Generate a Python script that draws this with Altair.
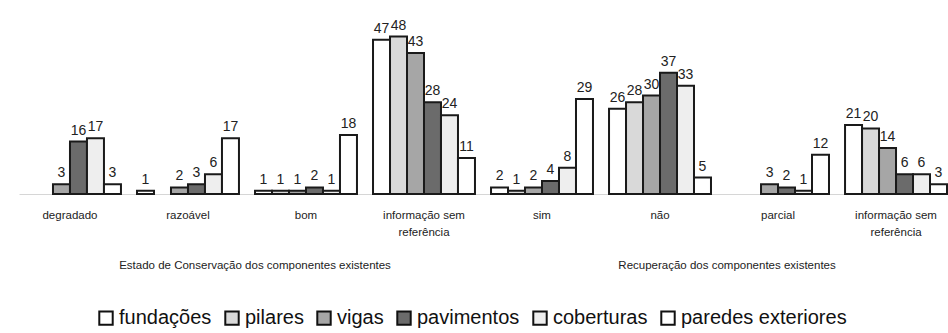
import altair as alt
import pandas as pd

categories = ["degradado", "razoável", "bom", "informação sem referência",
              "sim", "não", "parcial", "informação sem referência\u200b"]
series = ["fundações", "pilares", "vigas", "pavimentos", "coberturas", "paredes exteriores"]
colors = ["#ffffff", "#d9d9d9", "#a6a6a6", "#6b6b6b", "#eeeeee", "#ffffff"]

fundacoes = [0, 1, 1, 47, 2, 26, 0, 21]
pilares = [0, 0, 1, 48, 1, 28, 0, 20]
vigas = [3, 2, 1, 43, 2, 30, 3, 14]
pavimentos = [16, 3, 2, 28, 4, 37, 2, 6]
coberturas = [17, 6, 1, 24, 8, 33, 1, 6]
paredes = [3, 17, 18, 11, 29, 5, 12, 3]

group_titles = ["Estado de Conservação dos componentes existentes",
                "Recuperação dos componentes existentes"]

values = [fundacoes, pilares, vigas, pavimentos, coberturas, paredes]
rows = []
for s, vals in zip(series, values):
    for c, v in zip(categories, vals):
        rows.append({"cat": c, "serie": s, "valor": v})
df = pd.DataFrame(rows)
df = df[df["valor"] > 0]

W = 928
H = 164
step = W / (8 - 0.136)

x = alt.X("cat:N", sort=categories,
          scale=alt.Scale(paddingInner=0.136, paddingOuter=0),
          axis=alt.Axis(title=None, labelAngle=0, ticks=False, domain=True,
                        domainColor="#d6d6d6", domainWidth=1,
                        labelFont="Liberation Sans", labelFontSize=11.5,
                        labelColor="#222", labelPadding=15, labelLineHeight=17,
                        labelBaseline="top",
                        labelExpr="indexof(datum.label, 'informação') >= 0 ? ['informação sem', 'referência'] : datum.label"))
xo = alt.XOffset("serie:N", sort=series, scale=alt.Scale(paddingInner=0, paddingOuter=0))
y = alt.Y("valor:Q", scale=alt.Scale(domain=[0, 50], nice=False), axis=None)

bars = alt.Chart(df).mark_bar(stroke="#1a1a1a", strokeWidth=2).encode(
    x=x, xOffset=xo, y=y,
    color=alt.Color("serie:N", sort=series,
                    scale=alt.Scale(domain=series, range=colors),
                    legend=alt.Legend(orient="none", legendX=77, legendY=278,
                                      direction="horizontal", title=None,
                                      symbolType="square", symbolSize=180,
                                      symbolStrokeColor="#111", symbolStrokeWidth=2,
                                      labelFont="Liberation Sans", labelFontSize=20,
                                      labelColor="#111", columnPadding=9,
                                      labelOffset=3, labelLimit=400))
)

labels = alt.Chart(df).mark_text(baseline="bottom", dy=-4, font="Liberation Sans",
                                 fontSize=14, color="#222").encode(
    x=x, xOffset=xo, y=y, text="valor:Q"
)

title1 = alt.Chart(pd.DataFrame({"t": [group_titles[0]]})).mark_text(
    font="Liberation Sans", fontSize=11.5, color="#222", baseline="middle").encode(
    x=alt.value(2 * step), y=alt.value(236), text="t:N")
title2 = alt.Chart(pd.DataFrame({"t": [group_titles[1]]})).mark_text(
    font="Liberation Sans", fontSize=11.5, color="#222", baseline="middle").encode(
    x=alt.value(6 * step), y=alt.value(236), text="t:N")

chart = alt.layer(bars, labels, title1, title2).properties(
    width=W, height=H,
    autosize=alt.AutoSizeParams(type="none"),
    padding={"left": 19, "right": 1, "top": 30, "bottom": 139},
    background="white"
).configure_view(stroke=None)

chart.save("out.html", embed_options={"renderer": "svg", "actions": False})
